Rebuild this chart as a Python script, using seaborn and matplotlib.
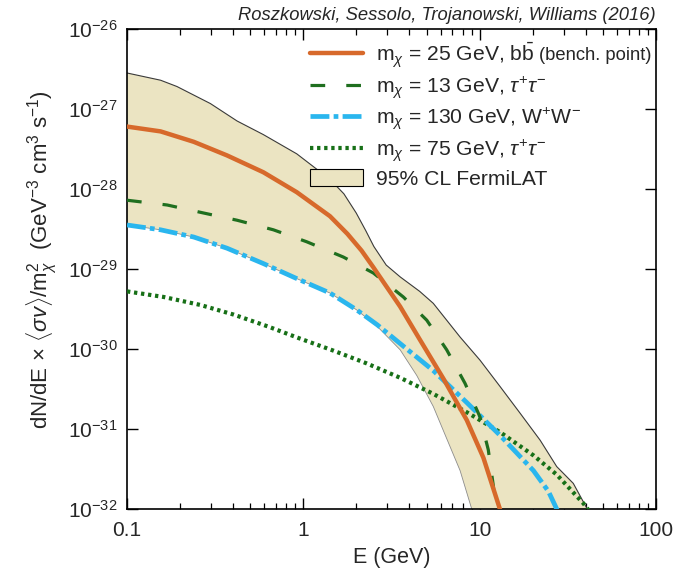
import numpy as np
import pandas as pd
import matplotlib
matplotlib.use("Agg")
import matplotlib.pyplot as plt
import matplotlib.ticker as mticker
import seaborn as sns

# ---------------- data ----------------
orange_E = [0.1, 0.155, 0.239, 0.369, 0.593, 0.918, 1.416, 1.778, 2.138, 2.495, 3.54, 4.57,
            6.223, 8.453, 10.5, 13.06, 13.49]
orange_F = [6.03e-28, 5.25e-28, 3.89e-28, 2.63e-28, 1.62e-28, 9.12e-29, 4.57e-29, 2.75e-29,
            1.70e-29, 1.05e-29, 3.39e-30, 1.32e-30, 4.27e-31, 1.29e-31, 4.37e-32, 9.8e-33,
            7.9e-33]

green_E = [0.1, 0.169, 0.272, 0.421, 0.676, 1.045, 1.687, 2.495, 3.69, 5.012, 6.501, 8.26,
           10.05, 11.19, 11.97, 12.3]
green_F = [7.24e-29, 6.31e-29, 5.01e-29, 4.07e-29, 3.09e-29, 2.19e-29, 1.41e-29, 8.91e-30,
           4.47e-30, 2.29e-30, 9.77e-31, 3.72e-31, 1.41e-31, 5.5e-32, 1.91e-32, 8.9e-33]

cyan_E = [0.1, 0.155, 0.239, 0.369, 0.593, 0.918, 1.416, 2.004, 2.63, 3.54, 5.458, 8.453,
          13.06, 20.18, 24.55, 27.35, 28.18]
cyan_F = [3.55e-29, 3.09e-29, 2.51e-29, 1.82e-29, 1.17e-29, 7.59e-30, 5.01e-30, 3.09e-30,
          2.0e-30, 1.17e-30, 5.37e-31, 2.14e-31, 8.32e-32, 3.02e-32, 1.66e-32, 1.0e-32, 8.9e-33]

dotted_E = [0.1, 0.1614, 0.261, 0.403, 0.631, 0.957, 1.479, 2.286, 3.54, 5.458, 8.453, 13.06,
            20.18, 27.35, 38.82, 41.69]
dotted_F = [5.25e-30, 4.47e-30, 3.55e-30, 2.69e-30, 1.91e-30, 1.35e-30, 9.55e-31, 6.61e-31,
            4.37e-31, 2.75e-31, 1.62e-31, 9.12e-32, 4.68e-32, 2.69e-32, 1.17e-32, 9.5e-33]

band_up_E = [0.1, 0.155, 0.192, 0.297, 0.421, 0.593, 0.918, 1.416, 1.698, 1.995, 2.259, 2.512,
             2.951, 3.548, 4.571, 5.458, 7.745, 10.05, 13.06, 16.94, 22.03, 27.35, 33.96,
             40.74]
band_up_F = [2.82e-27, 2.29e-27, 1.91e-27, 1.17e-27, 7.08e-28, 4.79e-28, 2.75e-28, 1.32e-28,
             8.71e-29, 5.01e-29, 3.02e-29, 1.91e-29, 1.12e-29, 7.94e-30, 5.25e-30, 3.72e-30,
             1.41e-30, 7.24e-31, 3.39e-31, 1.58e-31, 7.24e-32, 3.39e-32, 2.09e-32, 1.0e-32]

band_lo_E = [0.1, 0.155, 0.239, 0.369, 0.593, 0.918, 1.416, 2.004, 2.63, 3.54, 4.395, 5.458,
             6.501, 7.745, 9.016]
band_lo_F = [3.55e-29, 3.09e-29, 2.51e-29, 1.82e-29, 1.17e-29, 7.59e-30, 5.01e-30, 3.09e-30,
             1.91e-30, 9.77e-31, 4.68e-31, 1.91e-31, 7.59e-32, 3.02e-32, 1.0e-32]

labels = [r"m$_{\chi}$ = 25 GeV, b$\bar{\mathrm{b}}$",
          r"m$_{\chi}$ = 13 GeV, $\tau^{+}\tau^{-}$",
          r"m$_{\chi}$ = 130 GeV, W$^{+}$W$^{-}$",
          r"m$_{\chi}$ = 75 GeV, $\tau^{+}\tau^{-}$",
          "95% CL FermiLAT"]
bench_note = "(bench. point)"
title_text = "Roszkowski, Sessolo, Trojanowski, Williams (2016)"
xlabel = "E (GeV)"
ylabel = (r"dN/dE $\times$ $\langle\sigma v\rangle$/m$_{\chi}^{2}$  "
          r"(GeV$^{-3}$ cm$^{3}$ s$^{-1}$)")
xticks = [0.1, 1, 10, 100]
xticklabels = ["0.1", "1", "10", "100"]
yticks = [1e-32, 1e-31, 1e-30, 1e-29, 1e-28, 1e-27, 1e-26]

# ---------------- style ----------------
sns.set_style("ticks")
plt.rcParams["font.family"] = ["Liberation Sans", "DejaVu Sans"]
plt.rcParams["mathtext.fontset"] = "custom"
plt.rcParams["mathtext.rm"] = "Liberation Sans"
plt.rcParams["mathtext.it"] = "Liberation Sans:italic"
plt.rcParams["mathtext.bf"] = "Liberation Sans:bold"

C_BAND = "#ebe4c2"
C_ORANGE = "#d7692b"
C_GREEN = "#1f6f1f"
C_CYAN = "#2ab6ee"
C_DOT = "#177017"

fig = plt.figure(figsize=(6.86, 5.69), dpi=100)
ax = fig.add_axes([127 / 686, (569 - 509) / 569, 529 / 686, 480 / 569])

# band (closed along the bottom edge of the plot)
bx = np.concatenate([band_up_E, [band_up_E[-1], band_lo_E[-1]], band_lo_E[::-1]])
by = np.concatenate([band_up_F, [1e-34, 1e-34], band_lo_F[::-1]])
ax.fill(bx, by, facecolor=C_BAND, edgecolor="none", zorder=1, label=labels[4])
ax.plot(band_up_E, band_up_F, color="#3a3a3a", lw=0.8, zorder=1.5)
ax.plot(band_lo_E, band_lo_F, color="#8c8c8c", lw=0.6, zorder=1.5)


def line(xs, ys, **kw):
    df = pd.DataFrame({"E": xs, "F": ys})
    sns.lineplot(data=df, x="E", y="F", ax=ax, sort=False, estimator=None, **kw)


line(dotted_E, dotted_F, color=C_DOT, lw=3.0, linestyle=(0, (0.8, 0.9)), zorder=3,
     label=labels[3])
line(cyan_E, cyan_F, color=C_CYAN, lw=3.4, linestyle=(0, (4.0, 0.9, 1.0, 0.9)), zorder=3,
     label=labels[2])
line(green_E, green_F, color=C_GREEN, lw=2.3, linestyle=(0, (4.6, 6.6)), zorder=4,
     label=labels[1])
line(orange_E, orange_F, color=C_ORANGE, lw=3.2, zorder=5, label=labels[0])

ax.set_xscale("log")
ax.set_yscale("log")
ax.set_xlim(0.1, 100)
ax.set_ylim(1e-32, 1e-26)
ax.xaxis.set_major_locator(mticker.FixedLocator(xticks))
ax.xaxis.set_major_formatter(mticker.FixedFormatter(xticklabels))
ax.xaxis.set_minor_locator(mticker.LogLocator(base=10, subs=np.arange(2, 10)))
ax.xaxis.set_minor_formatter(mticker.NullFormatter())
ax.yaxis.set_major_locator(mticker.FixedLocator(yticks))
ax.yaxis.set_major_formatter(mticker.LogFormatterSciNotation())
ax.yaxis.set_minor_locator(mticker.NullLocator())

ax.tick_params(which="both", direction="in", top=True, right=True, color="black")
ax.tick_params(which="major", length=8, width=1.0, labelsize=15)
ax.tick_params(axis="x", which="major", pad=9)
ax.tick_params(axis="y", which="major", pad=7)
ax.tick_params(which="minor", length=4.5, width=0.9)
for s in ax.spines.values():
    s.set_linewidth(1.2)
    s.set_color("black")

ax.set_xlabel(xlabel, fontsize=15.5, labelpad=5)
ax.set_ylabel(ylabel, fontsize=16)
ax.yaxis.set_label_coords(-0.129, 0.52)
ax.text(1.0, 1.01, title_text, transform=ax.transAxes, ha="right", va="bottom",
        fontsize=13.2, style="italic")

handles, lbls = ax.get_legend_handles_labels()
hmap = dict(zip(lbls, handles))
leg = ax.legend([hmap[l] for l in labels], labels, loc="upper left",
                bbox_to_anchor=(0.345, 0.977), frameon=False, fontsize=15.2,
                handlelength=2.55, handletextpad=0.58, labelspacing=0.23,
                borderpad=0, borderaxespad=0, handleheight=0.9)
leg.legend_handles[-1].set_edgecolor("black")
leg.legend_handles[-1].set_linewidth(0.8)

fig.canvas.draw()
renderer = fig.canvas.get_renderer()
tb = leg.get_texts()[0].get_window_extent(renderer)
lb = leg.get_lines()[0].get_window_extent(renderer)
inv = fig.transFigure.inverted()
nx, ny = inv.transform((tb.x1 + 5, (lb.y0 + lb.y1) / 2 - 2))
fig.text(nx, ny, bench_note, fontsize=13.2, ha="left", va="center")

fig.savefig("out.png", dpi=100)
